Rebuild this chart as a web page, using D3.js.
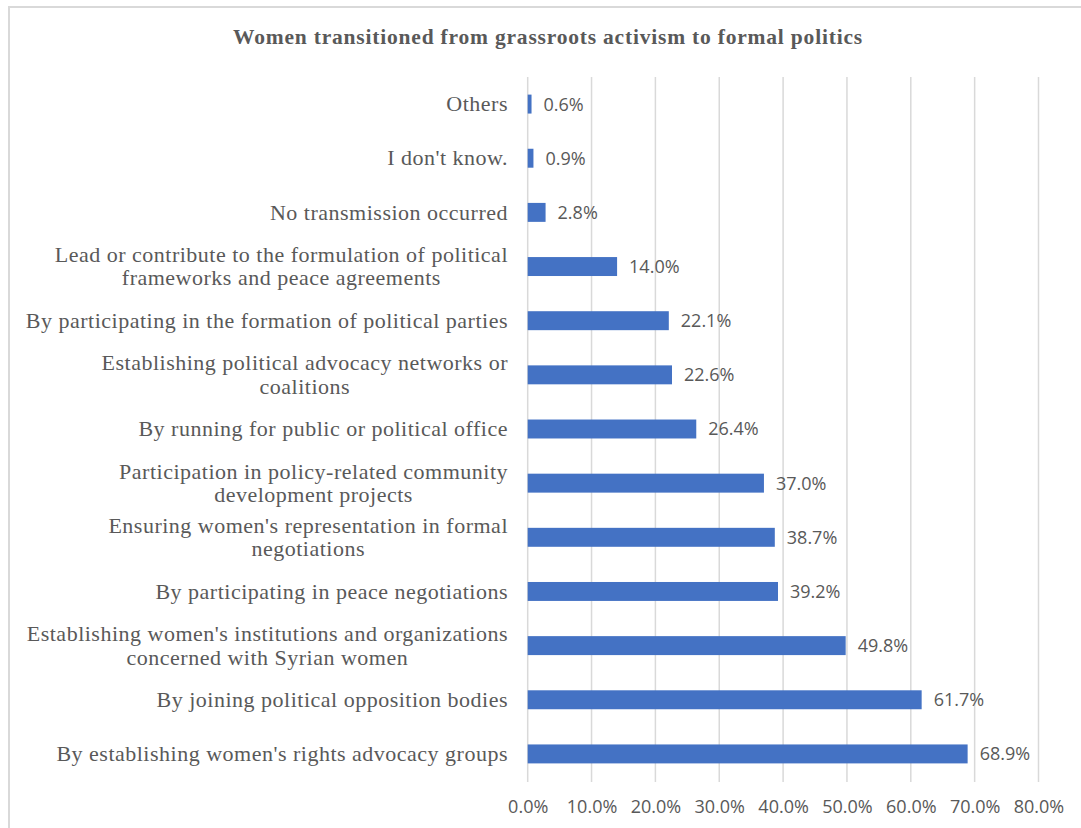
<!DOCTYPE html>
<html>
<head>
<meta charset="utf-8">
<script src="https://cdn.jsdelivr.net/npm/d3@7"></script>
<style>
  html, body { margin: 0; padding: 0; background: #fff; }
  svg { display: block; }
</style>
</head>
<body>
<svg id="chart" width="1081" height="828"></svg>
<script>
// Survey answers, top to bottom; "\n" marks a line break in the label
const categories = [
  "Others",
  "I don't know.",
  "No transmission occurred",
  "Lead or contribute to the formulation of political\nframeworks and peace agreements",
  "By participating in the formation of political parties",
  "Establishing political advocacy networks or\ncoalitions",
  "By running for public or political office",
  "Participation in policy-related community\ndevelopment projects",
  "Ensuring women's representation in formal\nnegotiations",
  "By participating in peace negotiations",
  "Establishing women's institutions and organizations\nconcerned with Syrian women",
  "By joining political opposition bodies",
  "By establishing women's rights advocacy groups"
];
const values = [0.6, 0.9, 2.8, 14.0, 22.1, 22.6, 26.4, 37.0, 38.7, 39.2, 49.8, 61.7, 68.9];
const tickValues = [0, 10, 20, 30, 40, 50, 60, 70, 80];
const title = "Women transitioned from grassroots activism to formal politics";

const svg = d3.select("#chart");
const textColor = "#595959";
const serif = "'Liberation Serif', 'Times New Roman', serif";
const sans = "'Open Sans', Lato, sans-serif";

// chart frame
svg.append("rect")
  .attr("x", 9).attr("y", 7)
  .attr("width", 1200).attr("height", 900)
  .attr("fill", "#fff")
  .attr("stroke", "#d9d9d9").attr("stroke-width", 2);

svg.append("text")
  .attr("x", 548).attr("y", 44)
  .attr("text-anchor", "middle")
  .attr("font-family", serif)
  .attr("font-weight", "bold")
  .attr("font-size", 21.5)
  .attr("letter-spacing", 0.8)
  .attr("fill", textColor)
  .text(title);

const x = d3.scaleLinear().domain([0, 80]).range([527.7, 1038.5]);
const y = d3.scaleBand().domain(categories).range([77, 781])
  .paddingInner(0.65).paddingOuter(0.325);

// vertical gridlines
svg.append("g").selectAll("line")
  .data(tickValues)
  .join("line")
  .attr("x1", d => x(d)).attr("x2", d => x(d))
  .attr("y1", 77).attr("y2", 782)
  .attr("stroke", "#d9d9d9").attr("stroke-width", 1.5);

// x axis tick labels
const xAxis = d3.axisBottom(x).tickValues(tickValues)
  .tickFormat(d => d.toFixed(1) + "%").tickSize(0).tickPadding(0);
const gx = svg.append("g").attr("transform", "translate(0,800)").call(xAxis);
gx.select(".domain").remove();
gx.selectAll("text")
  .attr("font-family", sans).attr("font-size", 18)
  .attr("fill", textColor).attr("dy", "0.71em");

// bars
svg.append("g").selectAll("rect")
  .data(values)
  .join("rect")
  .attr("x", x(0))
  .attr("y", (d, i) => y(categories[i]))
  .attr("width", d => x(d) - x(0))
  .attr("height", y.bandwidth())
  .attr("fill", "#4472C4");

// value labels
svg.append("g").selectAll("text")
  .data(values)
  .join("text")
  .attr("x", d => x(d) + 12)
  .attr("y", (d, i) => y(categories[i]) + y.bandwidth() / 2)
  .attr("dy", "0.36em")
  .attr("font-family", sans).attr("font-size", 18)
  .attr("fill", textColor)
  .text(d => d.toFixed(1) + "%");

// category labels: block right-aligned against the axis, lines centred within it
const labelRight = 508;
const lineH = 23.3;
const gl = svg.append("g")
  .attr("font-family", serif).attr("font-size", 22).attr("letter-spacing", 0.5)
  .attr("fill", textColor);
categories.forEach((c, i) => {
  const lines = c.split("\n");
  const cy = y(c) + y.bandwidth() / 2;
  const t = gl.append("text").attr("text-anchor", "middle");
  const spans = lines.map((ln, k) => t.append("tspan")
    .attr("y", cy + (k - (lines.length - 1) / 2) * lineH)
    .attr("dy", "0.33em")
    .text(ln));
  const w = d3.max(spans, s => s.node().getComputedTextLength());
  spans.forEach(s => s.attr("x", labelRight - w / 2));
});
</script>
</body>
</html>
